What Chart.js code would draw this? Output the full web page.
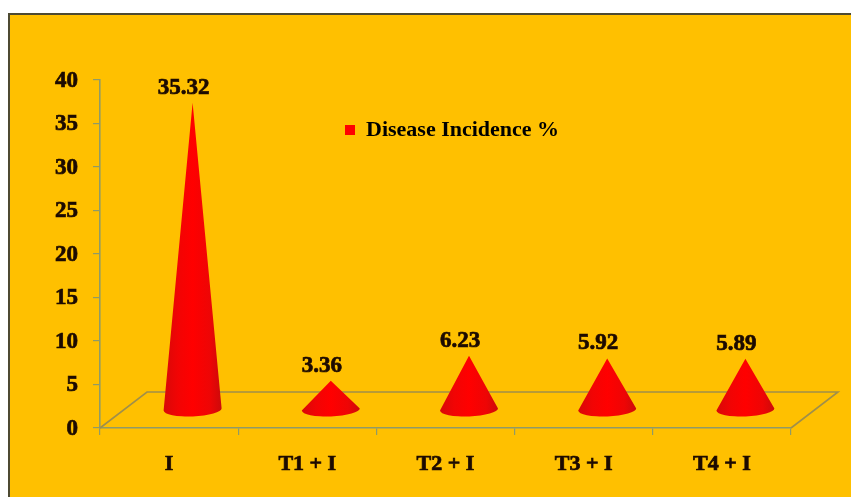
<!DOCTYPE html>
<html>
<head>
<meta charset="utf-8">
<script src="https://cdn.jsdelivr.net/npm/chart.js@4"></script>
<style>
html, body { margin: 0; padding: 0; background: #fff; overflow: hidden; }
#frame { position: absolute; left: 8px; top: 13px; width: 843px; height: 484px; box-sizing: border-box;
  background: #ffc000; border-left: 2px solid #4d4a32; border-top: 2px solid #4d4a32; }
#chart-container { position: absolute; left: 0; top: 0; width: 851px; height: 497px; filter: blur(0.5px); }
</style>
</head>
<body>
<div id="frame"></div>
<div id="chart-container"><canvas id="mycanvas" width="851" height="497"></canvas></div>
<script>
var categories = ['I', 'T1 + I', 'T2 + I', 'T3 + I', 'T4 + I'];
var incidence = [35.32, 3.36, 6.23, 5.92, 5.89];
var seriesName = 'Disease Incidence %';

var inkColor = '#1c0a00';
var labelFont = 'bold 23px "Liberation Serif"';
// how far the 3D floor runs back from the axis line
var depthX = 47, depthY = -36;

// cones sit halfway back on the floor, apex at the value
var conePlugin = {
    id: 'cones',
    beforeDatasetsDraw: function (chart) {
        var ctx = chart.ctx;
        var area = chart.chartArea;
        var meta = chart.getDatasetMeta(0);

        // floor
        ctx.save();
        ctx.strokeStyle = '#a08f4a';
        ctx.lineWidth = 1.6;
        ctx.beginPath();
        ctx.moveTo(area.left, area.bottom);
        ctx.lineTo(area.left + depthX, area.bottom + depthY);
        ctx.lineTo(area.right + depthX, area.bottom + depthY);
        ctx.lineTo(area.right, area.bottom);
        ctx.stroke();
        ctx.restore();

        for (var i = 0; i < meta.data.length; i++) {
            var bar = meta.data[i];
            var cx = bar.x + depthX / 2;
            var base = bar.base + depthY / 2;
            var apex = bar.y + depthY / 2;
            var rx = bar.width / 2;
            var ry = 7;

            var grad = ctx.createLinearGradient(cx - rx, 0, cx + rx, 0);
            grad.addColorStop(0, '#d80808');
            grad.addColorStop(0.25, '#f20404');
            grad.addColorStop(0.5, '#ff0000');
            grad.addColorStop(0.8, '#ee0505');
            grad.addColorStop(1, '#cc0a0a');

            ctx.save();
            ctx.fillStyle = grad;
            ctx.beginPath();
            ctx.moveTo(cx, apex);
            ctx.lineTo(cx + rx, base - 1);
            ctx.ellipse(cx, base, rx, ry, -0.04, 0, Math.PI);
            ctx.closePath();
            ctx.fill();
            ctx.restore();

            // value label
            ctx.save();
            ctx.font = labelFont;
            ctx.fillStyle = inkColor;
            ctx.strokeStyle = inkColor;
            ctx.lineWidth = 0.7;
            ctx.textAlign = 'center';
            ctx.textBaseline = 'middle';
            var txt = incidence[i].toFixed(2);
            ctx.strokeText(txt, cx - 9, apex - 15);
            ctx.fillText(txt, cx - 9, apex - 15);
            ctx.restore();
        }
        return false;
    },
    afterLayout: function (chart) {
        var legend = chart.legend;
        legend.left = 345;
        legend.right = 600;
        legend.top = 119;
        legend.bottom = 150;
    }
};

new Chart(document.getElementById('mycanvas'), {
    type: 'bar',
    data: {
        labels: categories,
        datasets: [{
            label: seriesName,
            data: incidence,
            backgroundColor: '#ff0000',
            barPercentage: 0.42,
            categoryPercentage: 1
        }]
    },
    options: {
        responsive: false,
        animation: false,
        layout: { padding: { top: 79, right: 60 } },
        plugins: {
            tooltip: { enabled: false },
            legend: {
                position: 'top',
                align: 'start',
                maxHeight: 1,
                labels: {
                    boxWidth: 10,
                    boxHeight: 10,
                    padding: 0,
                    color: '#000',
                    font: { family: '"Liberation Serif"', size: 22, weight: 'bold' }
                }
            }
        },
        scales: {
            x: {
                afterFit: function (scale) { scale.height = 69; },
                border: { color: '#8f9a68', width: 1.6 },
                grid: { drawOnChartArea: false, color: '#8f9a68', tickLength: 7, lineWidth: 1.2 },
                ticks: {
                    color: inkColor,
                    padding: 16,
                    maxRotation: 0,
                    textStrokeColor: inkColor,
                    textStrokeWidth: 0.7,
                    font: { family: '"Liberation Serif"', size: 22, weight: 'bold' }
                }
            },
            y: {
                min: 0,
                max: 40,
                afterFit: function (scale) { scale.width = 100; },
                border: { color: '#8f9a68', width: 1.6 },
                grid: { drawOnChartArea: false, color: '#8f9a68', tickLength: 7, lineWidth: 1.2 },
                ticks: {
                    stepSize: 5,
                    color: inkColor,
                    padding: 15,
                    labelOffset: 1,
                    textStrokeColor: inkColor,
                    textStrokeWidth: 0.7,
                    font: { family: '"Liberation Serif"', size: 23, weight: 'bold' }
                }
            }
        }
    },
    plugins: [conePlugin]
});
</script>
</body>
</html>
